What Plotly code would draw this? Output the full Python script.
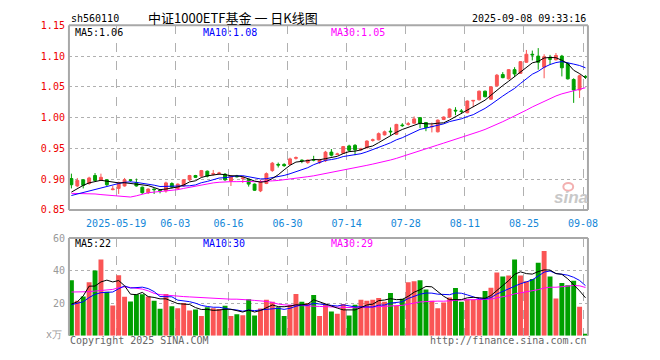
import plotly.graph_objects as go

# ---------------- data ----------------
opens = [0.901, 0.889, 0.899, 0.893, 0.906, 0.898, 0.899, 0.883, 0.885, 0.889,
         0.899, 0.894, 0.887, 0.878, 0.884, 0.882, 0.881, 0.893, 0.885, 0.889,
         0.899, 0.906, 0.905, 0.913, 0.908, 0.909, 0.908, 0.897, 0.905, 0.901,
         0.900, 0.892, 0.881, 0.893, 0.914, 0.924, 0.924, 0.924, 0.934, 0.931,
         0.927, 0.932, 0.927, 0.930, 0.944, 0.940, 0.942, 0.954, 0.955, 0.948,
         0.951, 0.963, 0.964, 0.972, 0.978, 0.973, 0.988, 0.989, 0.991, 1.000,
         0.992, 0.985, 0.977, 0.997, 1.001, 1.012, 1.011, 1.008, 1.027, 1.029,
         1.043, 1.030, 1.052, 1.070, 1.063, 1.078, 1.072, 1.090, 1.103, 1.100,
         1.082, 1.096, 1.094, 1.100, 1.088, 1.062, 1.045, 1.067]
highs = [0.909, 0.902, 0.900, 0.904, 0.910, 0.909, 0.900, 0.889, 0.896, 0.902,
         0.900, 0.901, 0.888, 0.885, 0.885, 0.884, 0.896, 0.895, 0.893, 0.900,
         0.907, 0.907, 0.915, 0.914, 0.915, 0.912, 0.910, 0.906, 0.907, 0.905,
         0.901, 0.893, 0.899, 0.911, 0.928, 0.927, 0.926, 0.935, 0.937, 0.932,
         0.932, 0.938, 0.933, 0.946, 0.949, 0.943, 0.954, 0.956, 0.957, 0.951,
         0.963, 0.966, 0.976, 0.979, 0.984, 0.990, 0.991, 0.993, 1.002, 1.001,
         0.993, 0.992, 0.997, 1.002, 1.015, 1.017, 1.014, 1.028, 1.028, 1.044,
         1.044, 1.051, 1.071, 1.074, 1.079, 1.082, 1.092, 1.110, 1.109, 1.113,
         1.103, 1.102, 1.105, 1.102, 1.090, 1.064, 1.070, 1.069]
lows = [0.885, 0.887, 0.885, 0.891, 0.897, 0.897, 0.889, 0.882, 0.876, 0.888,
        0.896, 0.888, 0.876, 0.876, 0.876, 0.877, 0.878, 0.885, 0.883, 0.888,
        0.897, 0.902, 0.903, 0.903, 0.906, 0.907, 0.897, 0.889, 0.903, 0.894,
        0.888, 0.881, 0.879, 0.892, 0.912, 0.919, 0.920, 0.923, 0.932, 0.926,
        0.925, 0.929, 0.925, 0.928, 0.937, 0.939, 0.941, 0.945, 0.939, 0.946,
        0.950, 0.961, 0.963, 0.971, 0.971, 0.972, 0.985, 0.987, 0.990, 0.983,
        0.978, 0.976, 0.976, 0.996, 1.000, 1.004, 1.006, 1.007, 1.017, 1.028,
        1.033, 1.029, 1.050, 1.064, 1.062, 1.066, 1.071, 1.089, 1.093, 1.078,
        1.064, 1.086, 1.093, 1.067, 1.062, 1.024, 1.032, 1.063]
closes = [0.891, 0.898, 0.890, 0.902, 0.898, 0.903, 0.891, 0.884, 0.894, 0.899,
          0.898, 0.889, 0.878, 0.884, 0.883, 0.881, 0.894, 0.887, 0.892, 0.899,
          0.906, 0.903, 0.914, 0.905, 0.909, 0.910, 0.899, 0.905, 0.904, 0.902,
          0.892, 0.882, 0.896, 0.909, 0.926, 0.923, 0.922, 0.933, 0.935, 0.930,
          0.931, 0.931, 0.931, 0.944, 0.939, 0.941, 0.953, 0.947, 0.948, 0.949,
          0.962, 0.964, 0.974, 0.977, 0.977, 0.989, 0.987, 0.990, 0.998, 0.991,
          0.984, 0.986, 0.996, 1.001, 1.014, 1.011, 1.010, 1.027, 1.028, 1.043,
          1.034, 1.050, 1.069, 1.065, 1.078, 1.071, 1.091, 1.103, 1.102, 1.090,
          1.099, 1.095, 1.101, 1.081, 1.063, 1.045, 1.068, 1.066]
volumes = [34, 21.5, 24, 32.8, 40, 46.8, 26.9, 18.5, 37.1, 23.9,
           20.9, 25.5, 25.5, 24, 21.5, 16.5, 25.6, 18, 16.8, 20,
           15.4, 16, 12, 17.4, 16.8, 16.4, 18.4, 12, 13.2, 12.5,
           22.4, 12.4, 16.6, 22, 20.8, 17.4, 12, 18.8, 25.6, 20.8,
           20, 25, 12, 19.5, 14.8, 13.4, 19.4, 12.4, 19, 22,
           21.4, 22, 23.2, 20.8, 26.2, 18.4, 22.6, 32.8, 33.4, 34,
           28.4, 21.4, 16.8, 20.4, 23.4, 29.2, 20.8, 22.4, 22, 22,
           27.4, 29.4, 38.8, 36.4, 37, 46.8, 37, 33.4, 34.8, 44.8,
           52, 36.4, 22.8, 32.4, 31, 33.8, 17.8, 1.2]

tick_idx = [8, 18, 27, 37, 47, 57, 67, 77, 87]
tick_labels = ["2025-05-19", "06-03", "06-16", "06-30", "07-14",
               "07-28", "08-11", "08-25", "09-08"]
price_ticks = [0.85, 0.90, 0.95, 1.00, 1.05, 1.10, 1.15]
vol_ticks = [20, 40, 60]

# moving-average values at the start of the window (read off the picture,
# they depend on sessions before the first visible candle)
ma5_head = [0.879, 0.885, 0.890, 0.894]
ma10_head = [0.8735, 0.876, 0.879, 0.881, 0.884, 0.886, 0.889, 0.891, 0.893]
ma30_head = [0.877, 0.877, 0.877, 0.877, 0.876, 0.875, 0.874, 0.873, 0.872, 0.871,
             0.871, 0.873, 0.876, 0.878, 0.879, 0.880, 0.880, 0.882, 0.883, 0.885,
             0.887, 0.889, 0.891, 0.893, 0.894, 0.895, 0.896, 0.896, 0.896]
vma5_head = [19.4, 20.8, 24.4, 30.4]
vma10_head = [19, 20, 20.8, 23.4, 25.4, 26.4, 26.8, 26.8, 28.8]
vma30_head = [26.8, 26.8, 27, 27, 27.4, 27.8, 28, 28.4, 29.5, 30,
              29.6, 29.2, 28.6, 27.5, 26, 25.2, 24.8, 24.4, 24, 24,
              23.8, 23.6, 23.2, 22.8, 22.6, 22.5, 22.4, 22.4, 22.4]


def moving_avg(vals, n, head):
    out = list(head)
    for i in range(n - 1, len(vals)):
        out.append(sum(vals[i - n + 1:i + 1]) / n)
    return out


ma5 = moving_avg(closes, 5, ma5_head)
ma10 = moving_avg(closes, 10, ma10_head)
ma30 = moving_avg(closes, 30, ma30_head)
vma5 = moving_avg(volumes, 5, vma5_head)
vma10 = moving_avg(volumes, 10, vma10_head)
vma30 = moving_avg(volumes, 30, vma30_head)

# ---------------- styling ----------------
W, H = 660, 360
L, R = 70, 597
MT, MB = 20, 211
VT, VB = 240, 341
RED = "#fa5555"
GREEN = "#00a000"
MONO = "DejaVu Sans Mono"
BORDER = "#a8a8a8"
GRID = "#b0b0b0"


def px(x):
    return x / W


def py(y):
    return 1 - y / H


xs = list(range(len(closes)))
xrange_ = [-2.5 / 6, len(closes) - 1 + 2.5 / 6]
grid_x = [t - 2.5 / 6 for t in tick_idx]

fig = go.Figure()

fig.add_trace(go.Candlestick(
    x=xs, open=opens, high=highs, low=lows, close=closes,
    increasing=dict(line=dict(color=RED, width=1), fillcolor=RED),
    decreasing=dict(line=dict(color=GREEN, width=1), fillcolor=GREEN),
    whiskerwidth=0, xaxis="x", yaxis="y", showlegend=False, hoverinfo="skip"))

for vals, col in [(ma30, "#ff00ff"), (ma10, "#0000ff"), (ma5, "#000000")]:
    fig.add_trace(go.Scatter(x=xs, y=vals, mode="lines",
                             line=dict(color=col, width=1),
                             xaxis="x", yaxis="y", showlegend=False,
                             hoverinfo="skip"))

bar_colors = [RED if c >= o else GREEN for o, c in zip(opens, closes)]
fig.add_trace(go.Bar(x=xs, y=volumes, marker=dict(color=bar_colors, line=dict(width=0)),
                     width=5 / 6, xaxis="x2", yaxis="y2", showlegend=False,
                     hoverinfo="skip"))
for vals, col in [(vma30, "#ff00ff"), (vma10, "#0000ff"), (vma5, "#000000")]:
    fig.add_trace(go.Scatter(x=xs, y=vals, mode="lines",
                             line=dict(color=col, width=1),
                             xaxis="x2", yaxis="y2", showlegend=False,
                             hoverinfo="skip"))

axis_common = dict(showline=False, zeroline=False, ticks="", fixedrange=True)

fig.update_layout(
    width=W, height=H, autosize=False,
    margin=dict(l=0, r=0, t=0, b=0),
    paper_bgcolor="white", plot_bgcolor="white",
    boxgap=0.3,
    xaxis=dict(domain=[px(L), px(R)], range=xrange_, anchor="y",
               tickmode="array", tickvals=grid_x, ticktext=tick_labels,
               tickfont=dict(family=MONO, size=10, color="#1387d8"),
               showgrid=True, gridcolor=GRID, griddash="dash", gridwidth=1,
               rangeslider=dict(visible=False), ticklabelstandoff=6,
               **axis_common),
    yaxis=dict(domain=[py(MB), py(MT)], range=[0.85, 1.15], anchor="x",
               tickmode="array", tickvals=price_ticks,
               ticktext=["%.2f" % v for v in price_ticks],
               tickfont=dict(family=MONO, size=10, color="#ee0000"),
               showgrid=True, gridcolor=GRID, griddash="dot", gridwidth=1,
               ticklabelstandoff=3, **axis_common),
    xaxis2=dict(domain=[px(L), px(R)], range=xrange_, anchor="y2",
                tickmode="array", tickvals=grid_x, showticklabels=False,
                showgrid=True, gridcolor=GRID, griddash="dash", gridwidth=1,
                **axis_common),
    yaxis2=dict(domain=[py(VB), py(VT)], range=[0, 60], anchor="x2",
                tickmode="array", tickvals=vol_ticks,
                ticktext=[str(v) for v in vol_ticks],
                tickfont=dict(family=MONO, size=10, color="#999999"),
                showgrid=True, gridcolor=GRID, griddash="dot", gridwidth=1,
                ticklabelstandoff=3, **axis_common),
)

# panel borders
shapes = []
for (x0, y0, x1, y1) in [(L, MT, R, MT), (L, MB, R, MB), (L, MT, L, MB), (R, MT, R, MB),
                         (L, VT, R, VT), (L, VT, L, VB), (R, VT, R, VB)]:
    shapes.append(dict(type="line", xref="paper", yref="paper",
                       x0=px(x0), y0=py(y0), x1=px(x1), y1=py(y1),
                       line=dict(color=BORDER, width=2)))
# sina logo eye
shapes.append(dict(type="circle", xref="paper", yref="paper",
                   x0=px(572), y0=py(191), x1=px(582), y1=py(183),
                   line=dict(color="#f3b0b0", width=2)))
fig.update_layout(shapes=shapes)


def ann(text, x, y, color="#000000", size=10, anchor="left", family=MONO, **kw):
    fig.add_annotation(text=text, x=px(x), y=py(y), xref="paper", yref="paper",
                       xanchor=anchor, yanchor="middle", showarrow=False,
                       font=dict(family=family, size=size, color=color), **kw)


ann("sh560110", 70, 13)
ann("中证1000ETF基金 一 日K线图", 237, 11.5, size=13, anchor="center",
    family="Noto Sans CJK SC")
ann("2025-09-08 09:33:16", 597, 13, anchor="right")
ann("MA5:1.06", 74, 27)
ann("MA10:1.08", 204, 27, color="#0000ff")
ann("MA30:1.05", 334, 27, color="#ff00ff")
ann("MA5:22", 74, 246)
ann("MA10:30", 204, 246, color="#0000ff")
ann("MA30:29", 334, 246, color="#ff00ff")
ann("x万", 65, 340, color="#999999", anchor="right")
ann("Copyright 2025 SINA.COM", 69, 346, color="#666666")
ann("http://finance.sina.com.cn", 598, 346, color="#666666", anchor="right")
ann("<b><i>sina</i></b>", 580, 198, color="#c8c8c8", size=17, anchor="center",
    family="Liberation Sans")

fig.write_html("out.html", config={"staticPlot": True},
               post_script="document.body.style.margin='0';"
                           "document.body.style.overflow='hidden';")
